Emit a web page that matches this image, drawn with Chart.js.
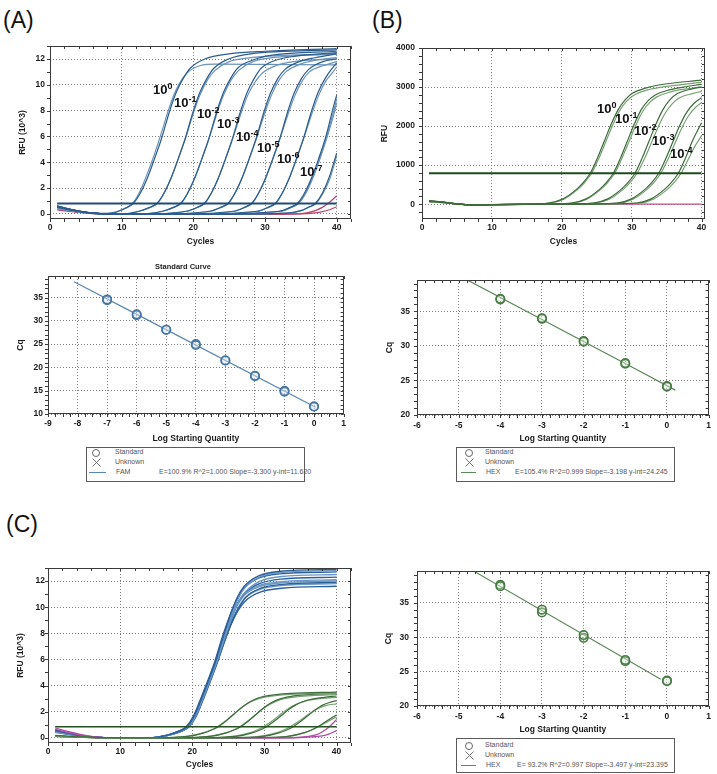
<!DOCTYPE html>
<html>
<head>
<meta charset="utf-8">
<script src="https://cdn.jsdelivr.net/npm/chart.js@4.4.0/dist/chart.umd.min.js"></script>
<style>
  body { margin: 0; background: #fff; }
  #fig { position: relative; width: 717px; height: 774px; overflow: hidden; font-family: "Liberation Sans", Arial, sans-serif; }
  canvas { position: absolute; }
  .panel { position: absolute; font-size: 23px; line-height: 23px; color: #111; }
  .dil { position: absolute; font-weight: 700; font-size: 13px; line-height: 13px; color: #111; white-space: nowrap; }
  .dil span { position: relative; top: -5px; font-size: 9px; }
  .leg { position: absolute; box-sizing: border-box; border: 1px solid #5a5a5a; background: #fff; font-size: 7px; color: #555; }
  .leg div { position: absolute; line-height: 8px; white-space: nowrap; }
  .leg .o { width: 6px; height: 6px; border: 1px solid #666; border-radius: 50%; }
  .leg .ln { height: 1px; }
</style>
</head>
<body>
<div id="fig">
  <div class="panel" style="left:3px;top:9px">(A)</div>
  <div class="panel" style="left:372px;top:9px">(B)</div>
  <div class="panel" style="left:6px;top:513px">(C)</div>

  <canvas id="ampA"></canvas>
  <canvas id="ampB"></canvas>
  <canvas id="stdA"></canvas>
  <canvas id="stdB"></canvas>
  <canvas id="ampC"></canvas>
  <canvas id="stdC"></canvas>

  <div style="position:absolute;left:0;width:351px;top:262px;text-align:center;font-weight:700;font-size:7.5px;color:#222;padding-left:15px;box-sizing:border-box">Standard Curve</div>

  <div class="dil" style="left:153px;top:83px">10<span>0</span></div>
  <div class="dil" style="left:174px;top:96px">10<span>-1</span></div>
  <div class="dil" style="left:197px;top:107px">10<span>-2</span></div>
  <div class="dil" style="left:217px;top:117px">10<span>-3</span></div>
  <div class="dil" style="left:236px;top:130px">10<span>-4</span></div>
  <div class="dil" style="left:257px;top:141px">10<span>-5</span></div>
  <div class="dil" style="left:277px;top:152px">10<span>-6</span></div>
  <div class="dil" style="left:300px;top:165px">10<span>-7</span></div>

  <div class="dil" style="left:597px;top:102px">10<span>0</span></div>
  <div class="dil" style="left:615px;top:112px">10<span>-1</span></div>
  <div class="dil" style="left:634px;top:124px">10<span>-2</span></div>
  <div class="dil" style="left:652px;top:134px">10<span>-3</span></div>
  <div class="dil" style="left:670px;top:147px">10<span>-4</span></div>

  <div class="leg" style="left:86px;top:447px;width:219px;height:35px">
    <div class="o" style="left:5px;top:1px"></div>
    <div style="left:28px;top:0px">Standard</div>
    <div style="left:5px;top:10px"><svg width="9" height="9"><path d="M0.5 0.5L8.5 8.5M8.5 0.5L0.5 8.5" stroke="#666" stroke-width="0.9"/></svg></div>
    <div style="left:28px;top:10px">Unknown</div>
    <div class="ln" style="left:2px;top:24px;width:17px;background:#5a87b0"></div>
    <div style="left:29px;top:20px">FAM</div>
    <div style="left:72px;top:20px">E=100.9% R^2=1.000 Slope=-3.300 y-int=11.620</div>
  </div>
  <div class="leg" style="left:456px;top:447px;width:219px;height:35px">
    <div class="o" style="left:8px;top:1px"></div>
    <div style="left:28px;top:0px">Standard</div>
    <div style="left:8px;top:10px"><svg width="9" height="9"><path d="M0.5 0.5L8.5 8.5M8.5 0.5L0.5 8.5" stroke="#666" stroke-width="0.9"/></svg></div>
    <div style="left:28px;top:10px">Unknown</div>
    <div class="ln" style="left:4px;top:24px;width:15px;background:#5b8857"></div>
    <div style="left:29px;top:20px">HEX</div>
    <div style="left:58px;top:20px">E=105.4% R^2=0.999 Slope=-3.198 y-int=24.245</div>
  </div>
  <div class="leg" style="left:456px;top:738px;width:219px;height:35px">
    <div class="o" style="left:8px;top:3px"></div>
    <div style="left:28px;top:2px">Standard</div>
    <div style="left:8px;top:12px"><svg width="9" height="9"><path d="M0.5 0.5L8.5 8.5M8.5 0.5L0.5 8.5" stroke="#666" stroke-width="0.9"/></svg></div>
    <div style="left:28px;top:12px">Unknown</div>
    <div class="ln" style="left:4px;top:26px;width:15px;background:#5b8857"></div>
    <div style="left:29px;top:22px">HEX</div>
    <div style="left:60px;top:22px">E= 93.2% R^2=0.997 Slope=-3.497 y-int=23.395</div>
  </div>
</div>

<script>
// ---- (A) FAM amplification, RFU x10^3, [cycle, rfu] per well ----
var ampA_thr = [[1, 0.8], [40, 0.8]];
var ampA_0a = [[1,0.55],[3,0.3],[5,0.12],[7,0.03],[9,0.1],[10.6,0.45],[11.6,0.8],[12.6,1.6],[13.6,2.8],[14.6,4.3],[15.6,5.9],[16.6,7.8],[17.6,9.4],[18.6,10.5],[19.6,11.3],[21.6,12.0],[25,12.4],[30,12.6],[40,12.8]];
var ampA_0b = [[1,0.45],[3,0.25],[5,0.1],[7,0.02],[9,0.12],[10.5,0.45],[11.5,0.8],[12.5,1.7],[13.5,3.0],[14.5,4.5],[15.5,6.2],[16.5,8.0],[17.5,9.5],[18.5,10.5],[19.5,11.1],[21,11.5],[23,11.6],[40,11.55]];
var ampA_1a = [[1,0.62],[3,0.33],[5,0.13],[7,0.02],[10,0.0],[12.4,0.2],[13.9,0.5],[14.9,0.8],[15.9,1.6],[16.9,2.8],[17.9,4.3],[18.9,5.9],[19.9,7.8],[20.9,9.4],[21.9,10.5],[22.9,11.3],[24.9,12.0],[28,12.4],[40,12.7]];
var ampA_1b = [[1,0.5],[3,0.28],[5,0.1],[7,0.01],[10,-0.01],[12.5,0.2],[14,0.5],[15,0.8],[16,1.7],[17,2.9],[18,4.4],[19,6.0],[20,7.8],[21,9.3],[22,10.4],[23,11.1],[25,11.8],[28,12.1],[40,12.4]];
var ampA_2a = [[1,0.58],[3,0.3],[5,0.12],[7,0.02],[12,-0.02],[15.7,0.2],[17.2,0.5],[18.2,0.8],[19.2,1.6],[20.2,2.8],[21.2,4.3],[22.2,5.9],[23.2,7.8],[24.2,9.4],[25.2,10.5],[26.2,11.3],[28.2,11.9],[31,12.3],[40,12.6]];
var ampA_2b = [[1,0.48],[3,0.27],[5,0.1],[7,0.01],[12,-0.03],[15.8,0.2],[17.3,0.5],[18.3,0.8],[19.3,1.7],[20.3,2.9],[21.3,4.4],[22.3,6.0],[23.3,7.8],[24.3,9.3],[25.3,10.4],[26.3,11.1],[28.3,11.8],[31,12.1],[40,12.4]];
var ampA_3a = [[1,0.6],[3,0.32],[5,0.12],[7,0.02],[12,-0.03],[19,0.2],[20.5,0.5],[21.5,0.8],[22.5,1.6],[23.5,2.8],[24.5,4.3],[25.5,5.9],[26.5,7.8],[27.5,9.4],[28.5,10.5],[29.5,11.3],[31.5,11.9],[34,12.2],[40,12.5]];
var ampA_3b = [[1,0.46],[3,0.26],[5,0.1],[7,0.01],[12,-0.03],[19.1,0.2],[20.6,0.5],[21.6,0.8],[22.6,1.7],[23.6,2.9],[24.6,4.4],[25.6,6.0],[26.6,7.7],[27.6,9.2],[28.6,10.2],[29.6,10.9],[31.6,11.5],[34,11.8],[40,12.0]];
var ampA_4a = [[1,0.56],[3,0.3],[5,0.11],[7,0.02],[14,-0.03],[22.3,0.2],[23.8,0.5],[24.8,0.8],[25.8,1.6],[26.8,2.8],[27.8,4.3],[28.8,5.9],[29.8,7.8],[30.8,9.4],[31.8,10.5],[32.8,11.2],[34.8,11.8],[37,12.1],[40,12.4]];
var ampA_4b = [[1,0.44],[3,0.25],[5,0.09],[7,0.01],[14,-0.04],[22.4,0.2],[23.9,0.5],[24.9,0.8],[25.9,1.7],[26.9,2.9],[27.9,4.4],[28.9,6.0],[29.9,7.7],[30.9,9.2],[31.9,10.3],[32.9,11.0],[34.9,11.6],[37,11.9],[40,12.1]];
var ampA_5a = [[1,0.6],[3,0.32],[5,0.12],[7,0.02],[16,-0.04],[25.6,0.2],[27.1,0.5],[28.1,0.8],[29.1,1.6],[30.1,2.8],[31.1,4.3],[32.1,5.9],[33.1,7.8],[34.1,9.4],[35.1,10.5],[36.1,11.2],[38.1,11.8],[40,12.0]];
var ampA_5b = [[1,0.5],[3,0.27],[5,0.1],[7,0.01],[16,-0.04],[25.7,0.2],[27.2,0.5],[28.2,0.8],[29.2,1.7],[30.2,2.9],[31.2,4.4],[32.2,6.0],[33.2,7.7],[34.2,9.2],[35.2,10.3],[36.2,11.0],[38.2,11.5],[40,11.8]];
var ampA_6a = [[1,0.55],[3,0.3],[5,0.11],[7,0.02],[18,-0.04],[28.9,0.2],[30.4,0.5],[31.4,0.8],[32.4,1.6],[33.4,2.8],[34.4,4.3],[35.4,5.9],[36.4,7.8],[37.4,9.4],[38.4,10.5],[39.4,11.3],[40,11.7]];
var ampA_6b = [[1,0.45],[3,0.26],[5,0.1],[7,0.01],[18,-0.04],[29,0.2],[30.5,0.5],[31.5,0.8],[32.5,1.7],[33.5,2.9],[34.5,4.4],[35.5,6.0],[36.5,7.7],[37.5,9.2],[38.5,10.3],[39.5,11.0],[40,11.4]];
var ampA_7a = [[1,0.6],[3,0.32],[5,0.12],[7,0.02],[20,-0.04],[32,0.2],[33.5,0.5],[34.5,0.8],[35.5,1.6],[36.5,2.8],[37.5,4.3],[38.5,6.0],[39.5,8.2],[40,9.2]];
var ampA_7b = [[1,0.5],[3,0.27],[5,0.1],[7,0.01],[20,-0.04],[32.2,0.2],[33.7,0.5],[34.7,0.8],[35.7,1.6],[36.7,2.8],[37.7,4.3],[38.7,6.0],[39.7,7.9],[40,8.6]];
var ampA_7c = [[1,0.4],[3,0.23],[5,0.08],[7,0.01],[20,-0.04],[32.1,0.2],[33.6,0.5],[34.6,0.8],[35.6,1.6],[36.6,2.8],[37.6,4.3],[38.6,6.0],[39.6,8.0],[40,8.9]];
var ampA_8a = [[1,0.52],[3,0.28],[5,0.11],[7,0.02],[22,-0.04],[33,0.05],[35,0.25],[36,0.5],[37,0.8],[38,1.6],[39,2.9],[40,4.7]];
var ampA_8b = [[1,0.42],[3,0.24],[5,0.09],[7,0.01],[22,-0.04],[33,0.05],[35.1,0.25],[36.1,0.5],[37.1,0.8],[38.1,1.6],[39.1,2.8],[40,4.5]];
var ampA_ntcA = [[1,0.4],[3,0.22],[5,0.08],[7,0.0],[20,-0.05],[34,0.0],[36,0.1],[37,0.25],[38,0.5],[39,0.9],[40,1.4]];
var ampA_ntcB = [[1,0.3],[3,0.17],[5,0.06],[7,0.0],[20,-0.05],[35,0.0],[37,0.08],[38,0.17],[39,0.32],[40,0.55]];

var ampA_dark = [ampA_0a, ampA_1a, ampA_2a, ampA_3a, ampA_4a, ampA_5a, ampA_6a, ampA_7a, ampA_8a];
var ampA_light = [ampA_0b, ampA_1b, ampA_2b, ampA_3b, ampA_4b, ampA_5b, ampA_6b, ampA_7b, ampA_7c, ampA_8b];
var ampA_ntc = [ampA_ntcA, ampA_ntcB];

// ---- (B) HEX amplification, RFU ----
var ampB_thr = [[1, 790], [40, 790]];
var ampB_0a = [[1,90],[3,55],[5,8],[7,-20],[10,-12],[14,0],[18.1,30],[20.1,130],[22.1,380],[23.1,560],[24.1,800],[25.1,1180],[26.1,1620],[27.1,2060],[28.1,2430],[29.1,2680],[30.1,2840],[32.1,2980],[34.1,3060],[40,3180]];
var ampB_0b = [[1,70],[3,45],[5,5],[7,-20],[10,-12],[14,0],[18.3,30],[20.3,130],[22.3,380],[23.3,560],[24.3,800],[25.3,1170],[26.3,1600],[27.3,2030],[28.3,2400],[29.3,2640],[30.3,2790],[32.3,2930],[34.3,3000],[40,3120]];
var ampB_1a = [[1,85],[3,52],[5,6],[7,-20],[10,-12],[16,0],[21.4,30],[23.4,130],[25.4,380],[26.4,560],[27.4,800],[28.4,1180],[29.4,1620],[30.4,2060],[31.4,2430],[32.4,2660],[33.4,2800],[35.4,2930],[37.4,3000],[40,3070]];
var ampB_1b = [[1,75],[3,48],[5,5],[7,-20],[10,-12],[16,0],[21.6,30],[23.6,130],[25.6,380],[26.6,560],[27.6,800],[28.6,1170],[29.6,1590],[30.6,2020],[31.6,2380],[32.6,2610],[33.6,2750],[35.6,2880],[37.6,2950],[40,3010]];
var ampB_2a = [[1,80],[3,50],[5,5],[7,-20],[10,-12],[18,0],[24.5,30],[26.5,130],[28.5,380],[29.5,560],[30.5,800],[31.5,1180],[32.5,1620],[33.5,2060],[34.5,2430],[35.5,2680],[36.5,2830],[38.5,2950],[40,3000]];
var ampB_2b = [[1,72],[3,46],[5,4],[7,-20],[10,-12],[18,0],[24.8,30],[26.8,130],[28.8,380],[29.8,560],[30.8,800],[31.8,1150],[32.8,1560],[33.8,1980],[34.8,2330],[35.8,2570],[36.8,2720],[38.8,2840],[40,2890]];
var ampB_3a = [[1,82],[3,50],[5,5],[7,-20],[10,-12],[20,0],[27.9,30],[29.9,130],[31.9,380],[32.9,560],[33.9,800],[34.9,1170],[35.9,1600],[36.9,2020],[37.9,2360],[38.9,2580],[40,2730]];
var ampB_3b = [[1,70],[3,45],[5,4],[7,-20],[10,-12],[20,0],[28.2,30],[30.2,130],[32.2,380],[33.2,560],[34.2,800],[35.2,1150],[36.2,1560],[37.2,1960],[38.2,2280],[39.2,2490],[40,2600]];
var ampB_4a = [[1,78],[3,48],[5,5],[7,-20],[10,-12],[22,0],[30.7,30],[32.7,130],[34.7,380],[35.7,560],[36.7,800],[37.7,1180],[38.7,1620],[40,2085]];
var ampB_4b = [[1,68],[3,44],[5,4],[7,-20],[10,-12],[22,0],[31.1,30],[33.1,130],[35.1,380],[36.1,560],[37.1,800],[38.1,1150],[39.1,1500],[40,1750]];
var ampB_ntc = [[1,60],[3,35],[5,0],[7,-20],[10,-12],[18,0],[40,0]];

var ampB_dark = [ampB_0a, ampB_1a, ampB_2a, ampB_3a, ampB_4a];
var ampB_light = [ampB_0b, ampB_1b, ampB_2b, ampB_3b, ampB_4b];

// ---- (C) duplex amplification, RFU x10^3 ----
var ampC_thr = [[1, 0.85], [40, 0.85]];
var ampC_fam1 = [[1,0.55],[3,0.32],[5,0.12],[7,0.03],[10,-0.02],[13.2,0.0],[15.2,0.05],[17.2,0.3],[18.2,0.5],[19.2,0.8],[20.2,1.6],[21.2,2.9],[22.2,4.3],[23.2,5.8],[24.2,7.6],[25.2,9.3],[26.2,10.7],[27.2,11.6],[29.2,12.4],[32.2,12.75],[40,12.9]];
var ampC_fam2 = [[1,0.5],[3,0.3],[5,0.11],[7,0.02],[10,-0.02],[13.3,0.0],[15.3,0.05],[17.3,0.3],[18.3,0.5],[19.3,0.8],[20.3,1.6],[21.3,2.9],[22.3,4.3],[23.3,5.8],[24.3,7.6],[25.3,9.2],[26.3,10.6],[27.3,11.5],[29.3,12.3],[32.3,12.65],[40,12.8]];
var ampC_fam3 = [[1,0.6],[3,0.34],[5,0.13],[7,0.03],[10,-0.02],[13.1,0.0],[15.1,0.05],[17.1,0.3],[18.1,0.5],[19.1,0.8],[20.1,1.6],[21.1,2.9],[22.1,4.3],[23.1,5.8],[24.1,7.6],[25.1,9.2],[26.1,10.5],[27.1,11.4],[29.1,12.2],[32.1,12.55],[40,12.7]];
var ampC_fam4 = [[1,0.45],[3,0.27],[5,0.1],[7,0.02],[10,-0.02],[13.4,0.0],[15.4,0.05],[17.4,0.3],[18.4,0.5],[19.4,0.8],[20.4,1.6],[21.4,2.9],[22.4,4.3],[23.4,5.8],[24.4,7.5],[25.4,9.1],[26.4,10.4],[27.4,11.2],[29.4,12.0],[32.4,12.35],[40,12.5]];
var ampC_fam5 = [[1,0.52],[3,0.3],[5,0.11],[7,0.02],[10,-0.02],[13.3,0.0],[15.3,0.05],[17.3,0.3],[18.3,0.5],[19.3,0.8],[20.3,1.6],[21.3,2.9],[22.3,4.3],[23.3,5.8],[24.3,7.5],[25.3,9.0],[26.3,10.3],[27.3,11.1],[29.3,11.8],[32.3,12.15],[40,12.3]];
var ampC_fam6 = [[1,0.48],[3,0.28],[5,0.1],[7,0.02],[10,-0.02],[13.2,0.0],[15.2,0.05],[17.2,0.3],[18.2,0.5],[19.2,0.8],[20.2,1.6],[21.2,2.9],[22.2,4.3],[23.2,5.8],[24.2,7.4],[25.2,8.9],[26.2,10.1],[27.2,10.9],[29.2,11.55],[32.2,11.85],[40,12.0]];
var ampC_fam7 = [[1,0.42],[3,0.25],[5,0.09],[7,0.02],[10,-0.02],[13.5,0.0],[15.5,0.05],[17.5,0.3],[18.5,0.5],[19.5,0.8],[20.5,1.6],[21.5,2.9],[22.5,4.3],[23.5,5.8],[24.5,7.4],[25.5,8.9],[26.5,10.0],[27.5,10.8],[29.5,11.45],[32.5,11.75],[40,11.9]];
var ampC_fam8 = [[1,0.58],[3,0.33],[5,0.12],[7,0.03],[10,-0.02],[13.3,0.0],[15.3,0.05],[17.3,0.3],[18.3,0.5],[19.3,0.8],[20.3,1.6],[21.3,2.9],[22.3,4.3],[23.3,5.8],[24.3,7.4],[25.3,8.8],[26.3,9.9],[27.3,10.7],[29.3,11.35],[32.3,11.65],[40,11.8]];
var ampC_fam9 = [[1,0.5],[3,0.29],[5,0.1],[7,0.02],[10,-0.02],[13.4,0.0],[15.4,0.05],[17.4,0.3],[18.4,0.5],[19.4,0.8],[20.4,1.6],[21.4,2.9],[22.4,4.3],[23.4,5.7],[24.4,7.3],[25.4,8.7],[26.4,9.8],[27.4,10.5],[29.4,11.15],[32.4,11.45],[40,11.6]];
var ampC_fam10 = [[1,0.46],[3,0.27],[5,0.1],[7,0.02],[10,-0.02],[13.2,0.0],[15.2,0.05],[17.2,0.3],[18.2,0.5],[19.2,0.8],[20.2,1.6],[21.2,2.9],[22.2,4.3],[23.2,5.8],[24.2,7.5],[25.2,9.0],[26.2,10.2],[27.2,11.0],[29.2,11.65],[32.2,11.95],[40,12.1]];
var ampC_hex0a = [[1,0.18],[4,0.08],[8,0.01],[14,0.0],[17.6,0.04],[19.6,0.12],[21.6,0.38],[22.6,0.58],[23.6,0.85],[24.6,1.25],[25.6,1.72],[26.6,2.2],[27.6,2.62],[28.6,2.92],[29.6,3.12],[31.6,3.3],[33.6,3.4],[40,3.5]];
var ampC_hex0b = [[1,0.14],[4,0.06],[8,0.01],[14,0.0],[17.5,0.04],[19.5,0.12],[21.5,0.38],[22.5,0.58],[23.5,0.85],[24.5,1.24],[25.5,1.7],[26.5,2.16],[27.5,2.56],[28.5,2.85],[29.5,3.04],[31.5,3.22],[33.5,3.32],[40,3.42]];
var ampC_hex1a = [[1,0.16],[4,0.07],[8,0.01],[16,0.0],[20.7,0.04],[22.7,0.12],[24.7,0.38],[25.7,0.58],[26.7,0.85],[27.7,1.25],[28.7,1.72],[29.7,2.2],[30.7,2.6],[31.7,2.88],[32.7,3.06],[34.7,3.24],[36.7,3.33],[40,3.4]];
var ampC_hex1b = [[1,0.12],[4,0.05],[8,0.0],[16,0.0],[20.6,0.04],[22.6,0.12],[24.6,0.38],[25.6,0.58],[26.6,0.85],[27.6,1.24],[28.6,1.68],[29.6,2.14],[30.6,2.52],[31.6,2.79],[32.6,2.97],[34.6,3.14],[36.6,3.23],[40,3.3]];
var ampC_hex2a = [[1,0.15],[4,0.06],[8,0.01],[18,0.0],[24.3,0.04],[26.3,0.12],[28.3,0.38],[29.3,0.58],[30.3,0.85],[31.3,1.24],[32.3,1.68],[33.3,2.14],[34.3,2.5],[35.3,2.76],[36.3,2.93],[38.3,3.1],[40,3.2]];
var ampC_hex2b = [[1,0.11],[4,0.05],[8,0.0],[18,0.0],[23.9,0.04],[25.9,0.12],[27.9,0.38],[28.9,0.58],[29.9,0.85],[30.9,1.22],[31.9,1.64],[32.9,2.08],[33.9,2.44],[34.9,2.68],[35.9,2.85],[37.9,3.01],[40,3.1]];
var ampC_hex3a = [[1,0.13],[4,0.06],[8,0.0],[20,0.0],[28,0.04],[30,0.12],[32,0.38],[33,0.58],[34,0.85],[35,1.24],[36,1.68],[37,2.12],[38,2.48],[39,2.7],[40,2.85]];
var ampC_hex3b = [[1,0.1],[4,0.04],[8,0.0],[20,0.0],[27.6,0.04],[29.6,0.12],[31.6,0.38],[32.6,0.58],[33.6,0.85],[34.6,1.2],[35.6,1.6],[36.6,1.98],[37.6,2.28],[38.6,2.48],[40,2.6]];
var ampC_hex4a = [[1,0.12],[4,0.05],[8,0.0],[22,0.0],[31.4,0.04],[33.4,0.12],[35.4,0.38],[36.4,0.58],[37.4,0.85],[38.4,1.2],[39.4,1.55],[40,1.75]];
var ampC_hex4b = [[1,0.1],[4,0.04],[8,0.0],[22,0.0],[31.5,0.04],[33.5,0.12],[35.5,0.38],[36.5,0.58],[37.5,0.85],[38.5,1.15],[39.5,1.45],[40,1.6]];
var ampC_ntcA = [[1,0.75],[3,0.45],[5,0.2],[7,0.05],[9,0.0],[20,-0.02],[33,0.0],[35,0.05],[37,0.2],[38,0.45],[39,0.85],[40,1.4]];
var ampC_ntcB = [[1,0.65],[3,0.38],[5,0.16],[7,0.03],[9,0.0],[20,-0.02],[34,0.0],[36,0.05],[38,0.15],[39,0.3],[40,0.55]];

var ampC_fam = [ampC_fam1, ampC_fam2, ampC_fam3, ampC_fam4, ampC_fam5, ampC_fam6, ampC_fam7, ampC_fam8, ampC_fam9, ampC_fam10];
var ampC_hex = [ampC_hex0a, ampC_hex0b, ampC_hex1a, ampC_hex1b, ampC_hex2a, ampC_hex2b, ampC_hex3a, ampC_hex3b, ampC_hex4a, ampC_hex4b];
var ampC_ntc = [ampC_ntcA, ampC_ntcB];

// ---- standard curves ----
var stdA_log = [-7, -6, -5, -4, -3, -2, -1, 0];
var stdA_cq1 = [34.6, 31.4, 28.1, 24.8, 21.5, 18.2, 14.8, 11.6];
var stdA_cq2 = [34.4, 31.2, 28.1, 25.0, 21.5, 18.1, 15.0, 11.6];
var stdA_fit = [[-8.12, 38.4], [0.05, 11.45]];

var stdB_log = [-4, -3, -2, -1, 0];
var stdB_cq1 = [36.8, 34.0, 30.6, 27.5, 24.1];
var stdB_cq2 = [36.7, 33.9, 30.7, 27.4, 24.2];
var stdB_fit = [[-4.82, 39.6], [0.2, 23.6]];

var stdC_log = [-4, -3, -2, -1, 0];
var stdC_cq1 = [37.4, 34.0, 30.3, 26.7, 23.6];
var stdC_cq2 = [37.6, 33.6, 29.9, 26.5, 23.7];
var stdC_fit = [[-4.64, 39.6], [-0.15, 23.9]];

// tick labels
var cycleTicks = [0, 10, 20, 30, 40];
var rfuK_ticks = [0, 2, 4, 6, 8, 10, 12];
var rfuB_ticks = [0, 1000, 2000, 3000, 4000];
var logA_ticks = [-9, -8, -7, -6, -5, -4, -3, -2, -1, 0, 1];
var logB_ticks = [-6, -5, -4, -3, -2, -1, 0, 1];
var cqA_ticks = [10, 15, 20, 25, 30, 35];
var cqB_ticks = [20, 25, 30, 35];

var framePlugin = {
  id: 'frame',
  afterDraw: function(chart, args, o) {
    var a = chart.chartArea, ctx = chart.ctx;
    var xs = chart.scales.x, ys = chart.scales.y;
    var i, p;
    ctx.save();
    ctx.strokeStyle = '#3a3a3a';
    ctx.lineWidth = 1;
    ctx.beginPath();
    for (i = Math.ceil(xs.min / o.xMinor - 1e-6); i * o.xMinor <= xs.max + 1e-6; i++) {
      p = Math.round(xs.getPixelForValue(i * o.xMinor)) + 0.5;
      ctx.moveTo(p, a.bottom); ctx.lineTo(p, a.bottom + 3);
      ctx.moveTo(p, a.top); ctx.lineTo(p, a.top + 3);
    }
    for (i = Math.ceil(ys.min / o.yMinor - 1e-6); i * o.yMinor <= ys.max + 1e-6; i++) {
      p = Math.round(ys.getPixelForValue(i * o.yMinor)) + 0.5;
      ctx.moveTo(a.left - 3, p); ctx.lineTo(a.left, p);
      ctx.moveTo(a.right - 3, p); ctx.lineTo(a.right, p);
    }
    ctx.stroke();
    ctx.strokeRect(Math.round(a.left) + 0.5, Math.round(a.top) + 0.5, Math.round(a.right - a.left) - 1, Math.round(a.bottom - a.top) - 1);
    ctx.restore();
  }
};

function curve(pts, color, width) {
  return {
    data: pts.map(function(p) { return { x: p[0], y: p[1] }; }),
    showLine: true, borderColor: color, borderWidth: width || 1.2,
    pointRadius: 0, fill: false, cubicInterpolationMode: 'monotone'
  };
}

function points(xs, ys, stroke, fill) {
  return {
    data: xs.map(function(x, i) { return { x: x, y: ys[i] }; }),
    showLine: false, pointRadius: 4.2, pointBorderWidth: 1.6,
    pointBorderColor: stroke, pointBackgroundColor: fill
  };
}

function axis(min, max, ticks, title, isX, g) {
  var f = { family: 'Liberation Sans', size: 8.5, weight: 'bold' };
  return {
    type: 'linear', min: min, max: max,
    afterBuildTicks: function(s) { s.ticks = ticks.map(function(v) { return { value: v }; }); },
    afterFit: function(s) { if (isX) s.height = g.xh; else s.width = g.yw; },
    grid: { color: '#7d7d7d', lineWidth: 1, drawTicks: false },
    border: { display: false, dash: [1, 2] },
    ticks: {
      padding: isX ? g.xTickPad : g.yTickPad, color: '#1a1a1a', font: f,
      autoSkip: false, maxRotation: 0,
      callback: function(v) { return String(v); }
    },
    title: {
      display: true, text: title, color: '#1a1a1a', font: f,
      padding: isX ? { top: 0, bottom: 0 } : { top: g.yTitlePad, bottom: 0 }
    }
  };
}

function plot(id, g, c) {
  var cv = document.getElementById(id);
  cv.width = g.w; cv.height = g.h;
  cv.style.cssText = 'left:' + g.left + 'px;top:' + g.top + 'px;width:' + g.w + 'px;height:' + g.h + 'px;';
  return new Chart(cv, {
    type: 'scatter',
    data: { datasets: c.datasets },
    plugins: [framePlugin],
    options: {
      responsive: false, animation: false, events: [],
      layout: { padding: { top: g.pt, right: g.pr, left: 0, bottom: 0 } },
      plugins: { legend: { display: false }, tooltip: { enabled: false }, frame: { xMinor: c.xMinor, yMinor: c.yMinor } },
      scales: {
        x: axis(c.xMin, c.xMax, c.xTicks, c.xTitle, true, g),
        y: axis(c.yMin, c.yMax, c.yTicks, c.yTitle, false, g)
      }
    }
  });
}

// (A) amplification
var setsA = [curve(ampA_thr, '#1f4b77', 2)];
ampA_dark.forEach(function(d) { setsA.push(curve(d, '#2c5d8c')); });
ampA_light.forEach(function(d) { setsA.push(curve(d, '#6a92ba')); });
ampA_ntc.forEach(function(d) { setsA.push(curve(d, '#b5476f')); });
plot('ampA', { left: 0, top: 36, w: 357, h: 211, yw: 50, xh: 28, pt: 10, pr: 6, xTickPad: 4, yTickPad: 5, yTitlePad: 18 }, {
  datasets: setsA, xMin: 0, xMax: 42, yMin: -0.4, yMax: 13, xTicks: cycleTicks, yTicks: rfuK_ticks,
  xTitle: 'Cycles', yTitle: 'RFU (10^3)', xMinor: 2, yMinor: 1
});

// (B) amplification
var setsB = [curve(ampB_thr, '#1e4a1c', 2)];
ampB_dark.forEach(function(d) { setsB.push(curve(d, '#3d6b3a')); });
ampB_light.forEach(function(d) { setsB.push(curve(d, '#78a174')); });
setsB.push(curve(ampB_ntc, '#c0508a'));
plot('ampB', { left: 365, top: 36, w: 346, h: 211, yw: 57, xh: 28, pt: 10, pr: 6, xTickPad: 4, yTickPad: 7, yTitlePad: 15 }, {
  datasets: setsB, xMin: 0, xMax: 40.5, yMin: -380, yMax: 4000, xTicks: cycleTicks, yTicks: rfuB_ticks,
  xTitle: 'Cycles', yTitle: 'RFU', xMinor: 2, yMinor: 200
});

// (A) standard curve
plot('stdA', { left: 0, top: 266, w: 351, h: 178, yw: 48, xh: 30, pt: 10, pr: 6, xTickPad: 5, yTickPad: 5, yTitlePad: 16 }, {
  datasets: [
    points(stdA_log, stdA_cq1, '#4875a3', 'rgba(215,228,242,0.35)'),
    points(stdA_log, stdA_cq2, '#4875a3', 'rgba(215,228,242,0.2)'),
    curve(stdA_fit, '#5a87b0', 1.2)
  ],
  xMin: -9, xMax: 1, yMin: 10, yMax: 39.6, xTicks: logA_ticks, yTicks: cqA_ticks,
  xTitle: 'Log Starting Quantity', yTitle: 'Cq', xMinor: 0.25, yMinor: 1
});

// (B) standard curve
plot('stdB', { left: 370, top: 268, w: 347, h: 176, yw: 47, xh: 29, pt: 10, pr: 3, xTickPad: 6, yTickPad: 7, yTitlePad: 15 }, {
  datasets: [
    points(stdB_log, stdB_cq1, '#4a7a45', 'rgba(222,236,218,0.35)'),
    points(stdB_log, stdB_cq2, '#4a7a45', 'rgba(222,236,218,0.2)'),
    curve(stdB_fit, '#5b8857', 1.2)
  ],
  xMin: -6, xMax: 1, yMin: 20, yMax: 39.5, xTicks: logB_ticks, yTicks: cqB_ticks,
  xTitle: 'Log Starting Quantity', yTitle: 'Cq', xMinor: 0.2, yMinor: 1
});

// (C) amplification
var setsC = [curve(ampC_thr, '#244f1f', 1.6)];
ampC_hex.forEach(function(d, i) { setsC.push(curve(d, i % 2 ? '#77a273' : '#3e6d3b')); });
ampC_ntc.forEach(function(d) { setsC.push(curve(d, '#b04aa6')); });
ampC_fam.forEach(function(d, i) { setsC.push(curve(d, i % 2 ? '#6b97c4' : '#2c6098', 1.4)); });
plot('ampC', { left: 0, top: 558, w: 357, h: 212, yw: 48, xh: 27, pt: 10, pr: 6, xTickPad: 4, yTickPad: 3, yTitlePad: 16 }, {
  datasets: setsC, xMin: 0, xMax: 42, yMin: -0.4, yMax: 13, xTicks: cycleTicks, yTicks: rfuK_ticks,
  xTitle: 'Cycles', yTitle: 'RFU (10^3)', xMinor: 2, yMinor: 1
});

// (C) standard curve
plot('stdC', { left: 370, top: 558, w: 347, h: 177, yw: 47, xh: 29, pt: 10, pr: 3, xTickPad: 6, yTickPad: 8, yTitlePad: 14 }, {
  datasets: [
    points(stdC_log, stdC_cq1, '#4a7a45', 'rgba(222,236,218,0.35)'),
    points(stdC_log, stdC_cq2, '#4a7a45', 'rgba(222,236,218,0.2)'),
    curve(stdC_fit, '#5b8857', 1.2)
  ],
  xMin: -6, xMax: 1, yMin: 20, yMax: 39.6, xTicks: logB_ticks, yTicks: cqB_ticks,
  xTitle: 'Log Starting Quantity', yTitle: 'Cq', xMinor: 0.2, yMinor: 1
});
</script>
</body>
</html>
